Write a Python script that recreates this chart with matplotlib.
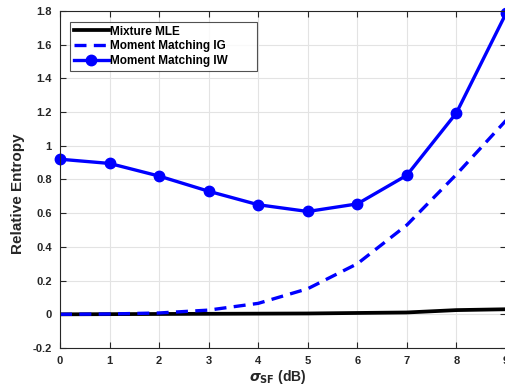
import matplotlib
matplotlib.use("Agg")
import matplotlib.pyplot as plt

sigma_sf = [0, 1, 2, 3, 4, 5, 6, 7, 8, 9]
mixture_mle = [0.0, 0.001, 0.002, 0.003, 0.004, 0.005, 0.008, 0.011, 0.025, 0.03]
mm_ig = [0.0, 0.002, 0.008, 0.025, 0.065, 0.152, 0.30, 0.53, 0.83, 1.15]
mm_iw = [0.92, 0.895, 0.82, 0.73, 0.65, 0.61, 0.655, 0.825, 1.195, 1.785]

xticks = list(range(0, 10))
yticks = [-0.2, 0, 0.2, 0.4, 0.6, 0.8, 1, 1.2, 1.4, 1.6, 1.8]
yticklabels = ["-0.2", "0", "0.2", "0.4", "0.6", "0.8", "1", "1.2", "1.4", "1.6", "1.8"]

plt.rcParams["font.family"] = ["Liberation Sans", "DejaVu Sans"]
plt.rcParams["font.weight"] = "bold"

fig = plt.figure(figsize=(5.06, 3.88), dpi=100)
ax = fig.add_axes([0.1186, 0.103, 0.8814, 0.869])

ax.plot(sigma_sf, mixture_mle, color="black", lw=2.7, label="Mixture MLE")
ax.plot(sigma_sf, mm_ig, color="#0000ff", lw=2.4, dashes=(3.6, 2.2),
        label="Moment Matching IG")
ax.plot(sigma_sf, mm_iw, color="#0000ff", lw=2.4, marker="o", ms=7.5,
        label="Moment Matching IW", clip_on=False)

ax.set_xlim(0, 9)
ax.set_ylim(-0.2, 1.8)
ax.set_xticks(xticks)
ax.set_yticks(yticks)
ax.set_yticklabels(yticklabels)
ax.tick_params(direction="in", length=4, width=0.8, top=True, right=True,
               labelsize=8, colors="#262626", pad=6)
for lab in ax.get_xticklabels() + ax.get_yticklabels():
    lab.set_fontweight("bold")
ax.grid(True, color="#e3e3e3", lw=0.8)
ax.set_axisbelow(True)
for s in ax.spines.values():
    s.set_color("#262626")
    s.set_linewidth(0.8)

ax.set_xlabel(r"$\sigma_{\mathbf{SF}}$ (dB)", fontsize=10, fontweight="bold",
              color="#262626")
ax.xaxis.set_label_coords(0.488, -0.058)
ax.set_ylabel("Relative Entropy", fontsize=11, fontweight="bold",
              color="#262626")
ax.yaxis.set_label_coords(-0.078, 0.457)

leg = ax.legend(loc="upper left", bbox_to_anchor=(0.0224, 0.0, 0.4195, 0.967),
                mode="expand", fontsize=8.5, frameon=True, fancybox=False,
                handlelength=3.0, handletextpad=0.05, borderpad=0.3,
                labelspacing=0.25, borderaxespad=0)
leg.get_frame().set_edgecolor("#262626")
leg.get_frame().set_linewidth(0.8)
for t in leg.get_texts():
    t.set_fontweight("bold")

fig.savefig("out.png", dpi=100)
